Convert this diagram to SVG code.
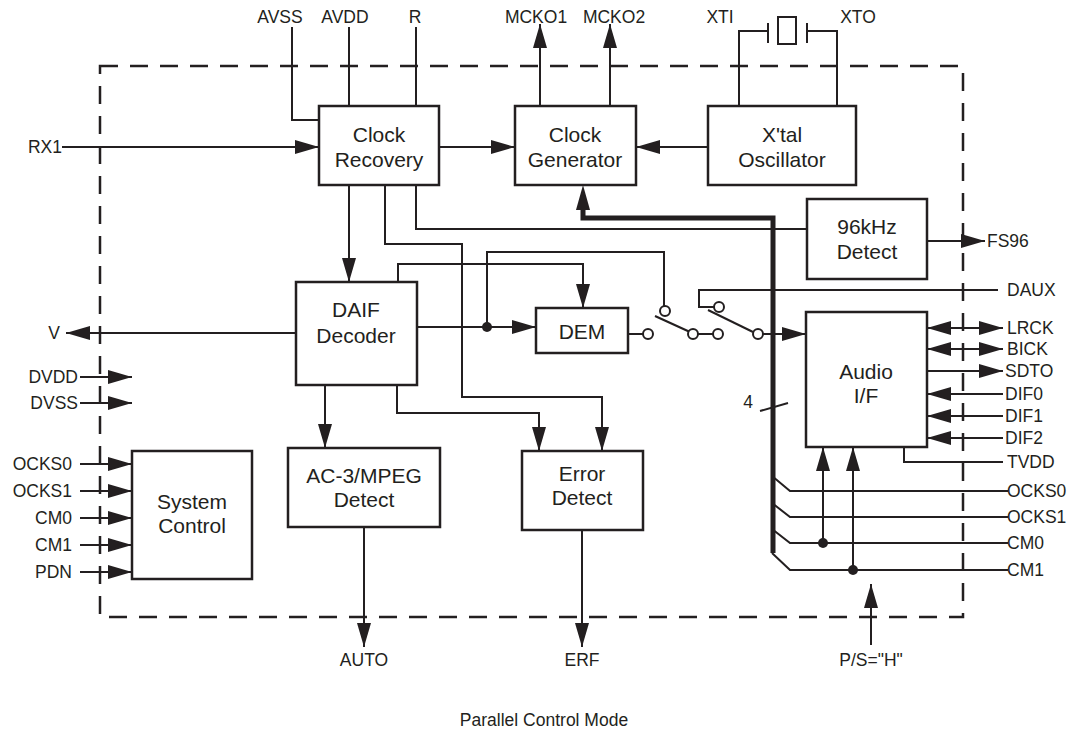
<svg xmlns="http://www.w3.org/2000/svg" width="1088" height="733" viewBox="0 0 1088 733">
<style>
.box{fill:#fff;stroke:#231f20;stroke-width:2.5}
.ln{fill:none;stroke:#231f20;stroke-width:2}
.ar{marker-end:url(#a)}
.da{marker-start:url(#a);marker-end:url(#a)}
.t{font-family:"Liberation Sans",Arial,sans-serif;font-size:17.5px;fill:#231f20}
.b{font-size:21px;text-anchor:middle}
.m{text-anchor:middle}
.e{text-anchor:end}
.c{fill:#fff;stroke:#231f20;stroke-width:2}
.d{fill:#231f20}
</style>
<defs>
<marker id="a" viewBox="0 0 24 14" refX="24" refY="7" markerWidth="24" markerHeight="14" markerUnits="userSpaceOnUse" orient="auto-start-reverse">
<path d="M0,0 L24,7 L0,14 z" fill="#231f20"/>
</marker>
</defs>
<rect width="1088" height="733" fill="#fff"/>
<rect id="border" x="100" y="66" width="863" height="551" fill="none" stroke="#231f20" stroke-width="2.5" stroke-dasharray="18 12"/>

<g id="connectors">
<path class="ln" d="M292,27 V120 H319"/>
<path class="ln" d="M349,27 V106"/>
<path class="ln" d="M416,27 V106"/>
<path class="ln ar" d="M540,106 V24"/>
<path class="ln ar" d="M610,106 V24"/>
<path class="ln" d="M739,106 V31 H768 M768,23 V43"/>
<rect x="778" y="17" width="18" height="27" fill="none" stroke="#231f20" stroke-width="2"/>
<path class="ln" d="M807,23 V43 M807,31 H837 V106"/>
<path class="ln ar" d="M62,147 H319"/>
<path class="ln ar" d="M439,147 H515"/>
<path class="ln ar" d="M708,147 H636"/>
<path class="ln ar" d="M349,185 V282"/>
<path class="ln" d="M416,185 V229 H807"/>
<path class="ln ar" d="M385,185 V244 H462 V397 H602 V451"/>
<path class="ln ar" d="M398,282 V264 H583 V308"/>
<path class="ln" d="M487,327 V252 H664 V306"/>
<path class="ln ar" d="M417,327 H536"/>
<path class="ln" d="M628,334 H643"/>
<path class="ln" d="M655,316 L690,332"/>
<path class="ln" d="M698,334 H713"/>
<path class="ln" d="M708,310 L753,332"/>
<path class="ln" d="M714,307 H699 V290 H998"/>
<path class="ln ar" d="M763,334 H806"/>
<path class="ln ar" d="M927,241 H985"/>
<path class="ln ar" d="M296,333 H66"/>
<path class="ln ar" d="M80,377 H132"/>
<path class="ln ar" d="M80,403 H132"/>
<path class="ln ar" d="M80,464 H132"/>
<path class="ln ar" d="M80,491 H132"/>
<path class="ln ar" d="M80,518 H132"/>
<path class="ln ar" d="M80,545 H132"/>
<path class="ln ar" d="M80,572 H132"/>
<path class="ln ar" d="M325,385 V448"/>
<path class="ln ar" d="M397,385 V413 H539 V451"/>
<path class="ln ar" d="M364,527 V647"/>
<path class="ln ar" d="M582,530 V647"/>
<path class="ln da" d="M927,328 H1003"/>
<path class="ln da" d="M927,349 H1003"/>
<path class="ln ar" d="M927,371 H1003"/>
<path class="ln ar" d="M1003,394 H927"/>
<path class="ln ar" d="M1003,416 H927"/>
<path class="ln ar" d="M1003,438 H927"/>
<path class="ln" d="M904,447 V462 H1003"/>
<path class="ln" d="M772,476 L790,491 H1008"/>
<path class="ln" d="M772,503 L790,517 H1008"/>
<path class="ln" d="M772,529 L790,543 H1008"/>
<path class="ln" d="M772,553 L790,570 H1008"/>
<path class="ln ar" d="M823,543 V447"/>
<path class="ln ar" d="M853,570 V447"/>
<path class="ln ar" d="M871,645 V584"/>
<path fill="none" stroke="#231f20" stroke-width="5" d="M583,208 V218 H773 V553"/>
<polygon class="d" points="583,185 576,210 590,210"/>
<path class="ln" d="M760,411 L788,403"/>
<circle class="d" cx="487" cy="327" r="5"/>
<circle class="d" cx="823" cy="543" r="5"/>
<circle class="d" cx="853" cy="570" r="5"/>
<circle class="c" cx="648" cy="334" r="5"/>
<circle class="c" cx="665" cy="311" r="5"/>
<circle class="c" cx="693" cy="334" r="5"/>
<circle class="c" cx="718" cy="334" r="5"/>
<circle class="c" cx="719" cy="307" r="5"/>
<circle class="c" cx="758" cy="334" r="5"/>
</g>

<g id="clock-recovery"><rect class="box" x="319" y="106" width="120" height="79"/><text class="t b" x="379" y="142">Clock</text><text class="t b" x="379" y="167">Recovery</text></g>
<g id="clock-generator"><rect class="box" x="515" y="106" width="121" height="79"/><text class="t b" x="575" y="142">Clock</text><text class="t b" x="575" y="167">Generator</text></g>
<g id="xtal-oscillator"><rect class="box" x="708" y="106" width="148" height="79"/><text class="t b" x="782" y="142">X'tal</text><text class="t b" x="782" y="167">Oscillator</text></g>
<g id="detect-96k"><rect class="box" x="807" y="199" width="120" height="80"/><text class="t b" x="867" y="234">96kHz</text><text class="t b" x="867" y="259">Detect</text></g>
<g id="daif-decoder"><rect class="box" x="296" y="282" width="121" height="103"/><text class="t b" x="356" y="317">DAIF</text><text class="t b" x="356" y="343">Decoder</text></g>
<g id="dem"><rect class="box" x="536" y="308" width="92" height="45"/><text class="t b" x="582" y="339">DEM</text></g>
<g id="audio-if"><rect class="box" x="806" y="312" width="121" height="135"/><text class="t b" x="866" y="379">Audio</text><text class="t b" x="866" y="403">I/F</text></g>
<g id="system-control"><rect class="box" x="132" y="451" width="120" height="128"/><text class="t b" x="192" y="509">System</text><text class="t b" x="192" y="533">Control</text></g>
<g id="ac3-mpeg-detect"><rect class="box" x="288" y="448" width="152" height="79"/><text class="t b" x="364" y="483">AC-3/MPEG</text><text class="t b" x="364" y="507">Detect</text></g>
<g id="error-detect"><rect class="box" x="522" y="451" width="121" height="79"/><text class="t b" x="582" y="481">Error</text><text class="t b" x="582" y="505">Detect</text></g>

<g id="labels">
<text class="t m" x="280" y="23">AVSS</text>
<text class="t m" x="345" y="23">AVDD</text>
<text class="t m" x="415" y="23">R</text>
<text class="t m" x="536" y="23">MCKO1</text>
<text class="t m" x="614" y="23">MCKO2</text>
<text class="t m" x="720" y="23">XTI</text>
<text class="t m" x="858" y="23">XTO</text>
<text class="t m" x="45" y="153">RX1</text>
<text class="t e" x="60" y="339">V</text>
<text class="t e" x="78" y="383">DVDD</text>
<text class="t e" x="78" y="409">DVSS</text>
<text class="t e" x="72" y="470">OCKS0</text>
<text class="t e" x="72" y="497">OCKS1</text>
<text class="t e" x="72" y="524">CM0</text>
<text class="t e" x="72" y="551">CM1</text>
<text class="t e" x="72" y="578">PDN</text>
<text class="t" x="987" y="247">FS96</text>
<text class="t" x="1007" y="296">DAUX</text>
<text class="t" x="1007" y="334">LRCK</text>
<text class="t" x="1007" y="355">BICK</text>
<text class="t" x="1005" y="377">SDTO</text>
<text class="t" x="1005" y="400">DIF0</text>
<text class="t" x="1005" y="422">DIF1</text>
<text class="t" x="1005" y="444">DIF2</text>
<text class="t" x="1007" y="468">TVDD</text>
<text class="t" x="1007" y="497">OCKS0</text>
<text class="t" x="1007" y="523">OCKS1</text>
<text class="t" x="1007" y="549">CM0</text>
<text class="t" x="1007" y="576">CM1</text>
<text class="t m" x="748" y="408">4</text>
<text class="t m" x="364" y="666">AUTO</text>
<text class="t m" x="582" y="666">ERF</text>
<text class="t m" x="871" y="666">P/S="H"</text>
<text class="t m" x="544" y="726">Parallel Control Mode</text>
</g>
</svg>
